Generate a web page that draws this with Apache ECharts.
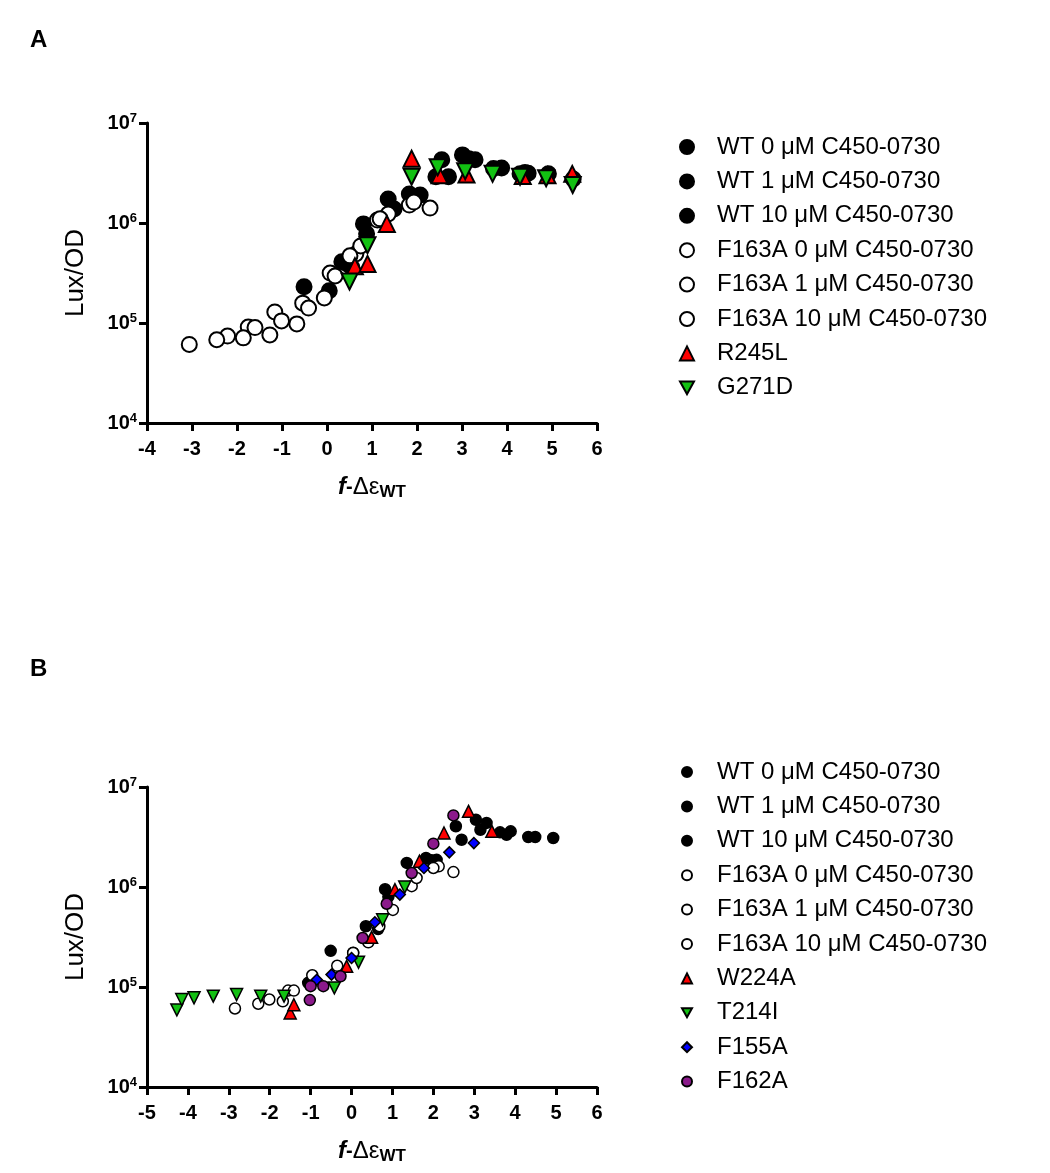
<!DOCTYPE html>
<html><head><meta charset="utf-8">
<script src="https://cdn.jsdelivr.net/npm/echarts@6/dist/echarts.min.js"></script>
<style>html,body{margin:0;padding:0;background:#fff}#c{width:1050px;height:1173px}</style>
</head><body><div id="c"></div>
<script>
const FONT = '"Liberation Sans", Arial, sans-serif';

// ---------- Panel A data: [f-Δε_WT, Lux/OD] ----------
const A_WT0 = [[-0.51,2.3e5],[0.33,4.1e5],[0.81,9.8e5],[1.36,1.74e6],[1.83,1.95e6],[2.55,4.3e6],[3.01,4.8e6],[3.70,3.5e6],[4.29,3.1e6],[4.92,3.1e6]];
const A_WT1 = [[0.05,2.1e5],[0.45,3.9e5],[0.88,7.8e5],[1.49,1.38e6],[2.07,1.9e6],[2.42,2.9e6],[3.29,4.3e6],[3.88,3.55e6],[4.47,3.15e6],[5.47,2.75e6]];
const A_WT10 = [[0.55,3.6e5],[1.95,1.75e6],[2.70,2.9e6],[3.15,4.4e6],[4.40,3.2e6]];
const A_F0 = [[-3.06,6.1e4],[-2.21,7.4e4],[-1.75,9.1e4],[-1.16,1.29e5],[-0.54,1.58e5],[0.07,3.16e5],[0.64,4.9e5],[1.12,1.07e6],[1.83,1.51e6]];
const A_F1 = [[-2.45,6.8e4],[-1.86,7.1e4],[-1.27,7.6e4],[-1.01,1.05e5],[-0.41,1.41e5],[0.18,2.95e5],[0.75,5.9e5],[1.36,1.23e6],[1.93,1.62e6]];
const A_F10 = [[-1.60,9.0e4],[-0.67,9.8e4],[-0.06,1.78e5],[0.51,4.7e5],[1.18,1.1e6],[2.29,1.41e6]];
const A_R245L = [[0.62,3.7e5],[0.90,3.9e5],[1.33,9.8e5],[1.88,4.4e6],[2.50,3.0e6],[3.10,3.05e6],[4.35,2.95e6],[4.90,3.0e6],[5.45,3.1e6]];
const A_G271D = [[0.50,2.6e5],[0.90,6.0e5],[1.88,2.9e6],[2.46,3.6e6],[3.07,3.3e6],[3.68,3.1e6],[4.29,2.9e6],[4.87,2.8e6],[5.46,2.4e6]];

// ---------- Panel B data ----------
const B_WT0 = [[-1.06,1.1e5],[0.04,2.2e5],[0.65,3.8e5],[0.90,8.0e5],[1.82,1.95e6],[2.55,4.05e6],[3.15,3.74e6],[3.79,3.33e6],[4.49,3.16e6]];
const B_WT1 = [[-0.51,2.3e5],[0.35,4.05e5],[0.82,9.5e5],[1.35,1.74e6],[1.96,1.85e6],[2.69,2.97e6],[3.30,4.37e6],[3.89,3.6e6],[4.93,3.09e6]];
const B_WT10 = [[2.08,1.87e6],[3.04,4.7e6],[3.63,3.52e6],[4.32,3.16e6]];
const B_F0 = [[-2.85,6.1e4],[-1.68,7.2e4],[-0.96,1.31e5],[0.41,2.8e5],[1.47,1.02e6],[2.49,1.41e6]];
const B_F1 = [[-2.28,6.8e4],[-1.55,9.2e4],[-0.35,1.63e5],[0.68,4.05e5],[1.59,1.23e6],[2.13,1.61e6]];
const B_F10 = [[-2.01,7.5e4],[-1.41,9.2e4],[0.04,2.19e5],[1.01,5.9e5],[2.00,1.55e6]];
const B_W224A = [[-1.50,5.5e4],[-1.41,6.65e4],[-0.12,1.61e5],[0.49,3.14e5],[1.06,9.4e5],[1.66,1.81e6],[2.26,3.47e6],[2.86,5.71e6],[3.43,3.6e6]];
const B_T214I = [[-4.27,5.9e4],[-4.15,7.5e4],[-3.85,7.8e4],[-3.38,8.1e4],[-2.81,8.4e4],[-2.22,8.1e4],[-1.65,8.1e4],[-0.42,9.8e4],[0.17,1.77e5],[0.76,4.7e5],[1.30,1.0e6]];
const B_F155A = [[-0.85,1.18e5],[-0.49,1.33e5],[0.00,1.95e5],[0.57,4.44e5],[1.18,8.4e5],[1.77,1.55e6],[2.39,2.22e6],[2.99,2.75e6]];
const B_F162A = [[-1.02,7.4e4],[-1.00,1.02e5],[-0.69,1.02e5],[-0.27,1.28e5],[0.27,3.09e5],[0.86,6.8e5],[1.47,1.38e6],[2.00,2.71e6],[2.49,5.2e6]];

const NAMES_WT = ['WT 0 \u03bcM C450-0730','WT 1 \u03bcM C450-0730','WT 10 \u03bcM C450-0730'];
const NAMES_F = ['F163A 0 \u03bcM C450-0730','F163A 1 \u03bcM C450-0730','F163A 10 \u03bcM C450-0730'];
const DOWN_TRI = 'path://M0,0 L10,0 L5,9 Z';
const LEGEND_A = NAMES_WT.concat(NAMES_F, ['R245L', { name: 'G271D', icon: DOWN_TRI }]);
const LEGEND_B = NAMES_WT.concat(NAMES_F, ['W224A', { name: 'T214I', icon: DOWN_TRI }, 'F155A', 'F162A']);

const RED = '#ff0000', GREEN = '#12c012', BLUE = '#0000ff', PURPLE = '#8b1a8b';

function sc(name, data, panel, symbol, fill, size, bw, rot) {
  return {
    type: 'scatter', name: name, data: data,
    xAxisIndex: panel, yAxisIndex: panel,
    symbol: symbol, symbolSize: size, symbolRotate: rot || 0,
    itemStyle: { color: fill, borderColor: '#000', borderWidth: bw, opacity: 1 },
    emphasis: { disabled: true }
  };
}

function yAxisCfg(idx) {
  return {
    type: 'log', logBase: 10, min: 1e4, max: 1e7, gridIndex: idx,
    name: 'Lux/OD', nameLocation: 'middle', nameGap: 58,
    nameTextStyle: { fontFamily: FONT, fontSize: 26, color: '#000' },
    axisLine: { show: true, onZero: false, lineStyle: { color: '#000', width: 3 } },
    axisTick: { show: true, length: 8, lineStyle: { color: '#000', width: 3 } },
    minorTick: { show: false },
    splitLine: { show: false },
    axisLabel: {
      margin: 10, color: '#000',
      formatter: function (v) { return '{b|10}{s|' + Math.round(Math.log10(v)) + '}'; },
      rich: {
        b: { fontFamily: FONT, fontWeight: 'bold', fontSize: 20, lineHeight: 22, color: '#000' },
        s: { fontFamily: FONT, fontWeight: 'bold', fontSize: 13, lineHeight: 13, verticalAlign: 'top', color: '#000' }
      }
    }
  };
}
function xAxisCfg(idx, min) {
  return {
    type: 'value', min: min, max: 6, interval: 1, gridIndex: idx,
    name: '{f|f}{h|-}{d|\u0394\u03b5}{w|WT}', nameLocation: 'middle', nameGap: 50,
    nameTextStyle: {
      rich: {
        f: { fontFamily: FONT, fontWeight: 'bold', fontStyle: 'italic', fontSize: 24, lineHeight: 28, color: '#000' },
        h: { fontFamily: FONT, fontWeight: 'bold', fontSize: 20, lineHeight: 28, color: '#000' },
        d: { fontFamily: FONT, fontSize: 24, lineHeight: 28, color: '#000' },
        w: { fontFamily: FONT, fontWeight: 'bold', fontSize: 17, lineHeight: 16, verticalAlign: 'bottom', color: '#000' }
      }
    },
    axisLine: { show: true, onZero: false, lineStyle: { color: '#000', width: 3 } },
    axisTick: { show: true, length: 8, lineStyle: { color: '#000', width: 3 } },
    splitLine: { show: false },
    axisLabel: { margin: 16, color: '#000', fontFamily: FONT, fontWeight: 'bold', fontSize: 20 }
  };
}
function legendCfg(names, top, icon) {
  const left = 681 - icon / 2;
  const pad = 711 - (left + icon + 5);
  return {
    orient: 'vertical', left: left, top: top, data: names,
    itemWidth: icon, itemHeight: icon, itemGap: 10.4,
    textStyle: { fontFamily: FONT, fontSize: 24, lineHeight: 24, color: '#000', padding: [0, 0, 0, pad] },
    selectedMode: false
  };
}

const option = {
  animation: false,
  backgroundColor: '#fff',
  grid: [
    { left: 147, top: 123, width: 450, height: 300 },
    { left: 147, top: 787, width: 450, height: 300 }
  ],
  xAxis: [xAxisCfg(0, -4), xAxisCfg(1, -5)],
  yAxis: [yAxisCfg(0), yAxisCfg(1)],
  legend: [legendCfg(LEGEND_A, 130, 14), legendCfg(LEGEND_B, 755, 10)],
  graphic: [
    { type: 'text', left: 30, top: 28, style: { text: 'A', font: 'bold 24px ' + FONT, fill: '#000' } },
    { type: 'text', left: 30, top: 657, style: { text: 'B', font: 'bold 24px ' + FONT, fill: '#000' } }
  ],
  series: [
    sc(NAMES_WT[0], A_WT0, 0, 'circle', '#000', 15, 2),
    sc(NAMES_WT[1], A_WT1, 0, 'circle', '#000', 15, 2),
    sc(NAMES_WT[2], A_WT10, 0, 'circle', '#000', 15, 2),
    sc(NAMES_F[0], A_F0, 0, 'circle', '#fff', 15, 2),
    sc(NAMES_F[1], A_F1, 0, 'circle', '#fff', 15, 2),
    sc(NAMES_F[2], A_F10, 0, 'circle', '#fff', 15, 2),
    sc('R245L', A_R245L, 0, 'triangle', RED, 16, 2),
    sc('G271D', A_G271D, 0, 'triangle', GREEN, 16, 2, 180),

    sc(NAMES_WT[0], B_WT0, 1, 'circle', '#000', 11, 1.5),
    sc(NAMES_WT[1], B_WT1, 1, 'circle', '#000', 11, 1.5),
    sc(NAMES_WT[2], B_WT10, 1, 'circle', '#000', 11, 1.5),
    sc(NAMES_F[0], B_F0, 1, 'circle', '#fff', 11, 1.5),
    sc(NAMES_F[1], B_F1, 1, 'circle', '#fff', 11, 1.5),
    sc(NAMES_F[2], B_F10, 1, 'circle', '#fff', 11, 1.5),
    sc('W224A', B_W224A, 1, 'triangle', RED, 12, 1.5),
    sc('T214I', B_T214I, 1, 'triangle', GREEN, 12, 1.5, 180),
    sc('F155A', B_F155A, 1, 'diamond', BLUE, 11, 1.5),
    sc('F162A', B_F162A, 1, 'circle', PURPLE, 11, 1.5)
  ]
};
const chart = echarts.init(document.getElementById('c'));
chart.setOption(option);
</script>
</body></html>
